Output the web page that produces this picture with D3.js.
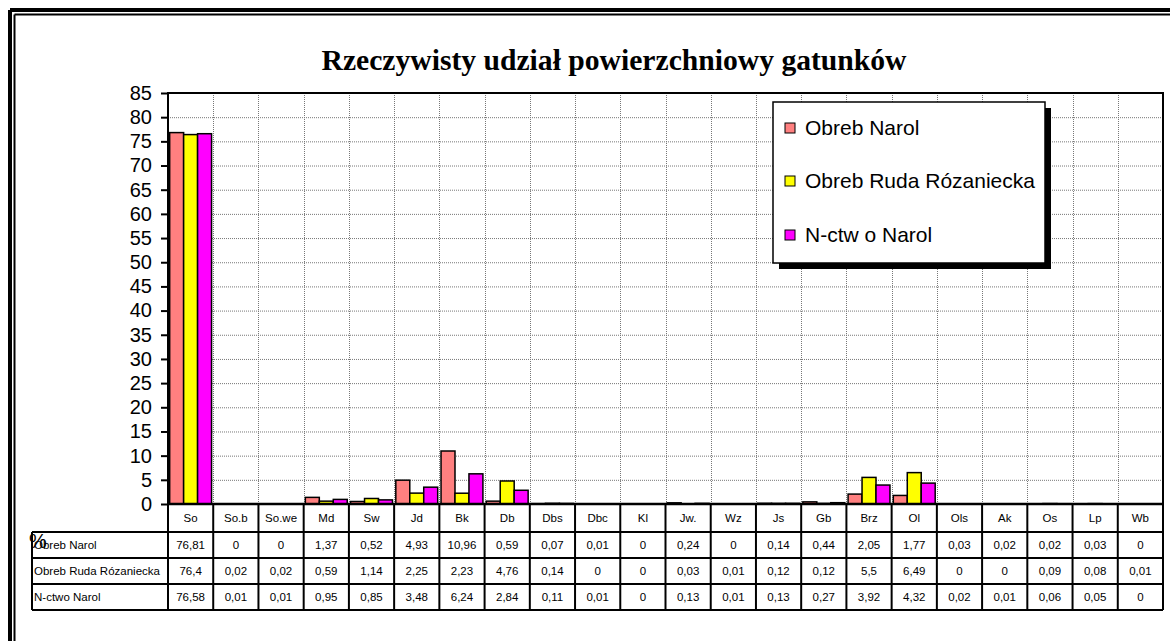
<html lang="pl">

<head>
  <meta charset="utf-8">
  <title>Rzeczywisty udział powierzchniowy gatunków</title>
  <script type="text/javascript" src="https://d3js.org/d3.v7.min.js"></script>
  <style>
    body { margin: 0; background: #fff; }
    text { font-family: "Liberation Sans", Arial, sans-serif; }
  </style>
</head>

<body>
  <svg width="1170" height="641"></svg>
  <script>
    const categories = ["So", "So.b", "So.we", "Md", "Sw", "Jd", "Bk", "Db", "Dbs", "Dbc", "Kl",
      "Jw.", "Wz", "Js", "Gb", "Brz", "Ol", "Ols", "Ak", "Os", "Lp", "Wb"];
    const seriesNames = ["Obreb Narol", "Obreb Ruda Rózaniecka", "N-ctwo Narol"];
    const legendNames = ["Obreb Narol", "Obreb Ruda Rózaniecka", "N-ctw o Narol"];
    const narol = [76.81, 0, 0, 1.37, 0.52, 4.93, 10.96, 0.59, 0.07, 0.01, 0,
      0.24, 0, 0.14, 0.44, 2.05, 1.77, 0.03, 0.02, 0.02, 0.03, 0];
    const rudaRozaniecka = [76.4, 0.02, 0.02, 0.59, 1.14, 2.25, 2.23, 4.76, 0.14, 0, 0,
      0.03, 0.01, 0.12, 0.12, 5.5, 6.49, 0, 0, 0.09, 0.08, 0.01];
    const nctwo = [76.58, 0.01, 0.01, 0.95, 0.85, 3.48, 6.24, 2.84, 0.11, 0.01, 0,
      0.13, 0.01, 0.13, 0.27, 3.92, 4.32, 0.02, 0.01, 0.06, 0.05, 0];
    const yTicks = d3.range(0, 90, 5);
    const colors = ["#FF8080", "#FFFF00", "#FF00FF"];
    const series = [narol, rudaRozaniecka, nctwo];

    const svg = d3.select("svg");
    const plotLeft = 168, plotRight = 1163, plotTop = 93, plotBottom = 504;
    const rowH = [28, 26, 26, 26];
    const labelLeft = 32;

    // ramka
    svg.append("line").attr("x1", 10).attr("y1", 10).attr("x2", 1170).attr("y2", 10)
      .attr("stroke", "#000").attr("stroke-width", 4);
    svg.append("line").attr("x1", 10).attr("y1", 10).attr("x2", 10).attr("y2", 641)
      .attr("stroke", "#000").attr("stroke-width", 4);
    svg.append("line").attr("x1", 14.5).attr("y1", 14.5).attr("x2", 1170).attr("y2", 14.5)
      .attr("stroke", "#000").attr("stroke-width", 2);
    svg.append("line").attr("x1", 14.5).attr("y1", 14.5).attr("x2", 14.5).attr("y2", 641)
      .attr("stroke", "#000").attr("stroke-width", 2);

    svg.append("text")
      .attr("x", 614).attr("y", 70)
      .attr("text-anchor", "middle")
      .attr("textLength", 585).attr("lengthAdjust", "spacingAndGlyphs")
      .style("font-family", "'Liberation Serif', 'Times New Roman', serif")
      .style("font-weight", "bold").style("font-size", "30px")
      .text("Rzeczywisty udział powierzchniowy gatunków");

    const x = d3.scaleBand().domain(categories).range([plotLeft, plotRight]);
    const x1 = d3.scaleBand().domain(d3.range(3))
      .range([0, x.bandwidth()]).paddingOuter(0.12);
    const y = d3.scaleLinear().domain([0, 85]).range([plotBottom, plotTop]);

    // siatka
    svg.append("g").selectAll("line").data(yTicks.slice(1))
      .join("line")
      .attr("x1", plotLeft).attr("x2", plotRight)
      .attr("y1", d => y(d) + 0.5).attr("y2", d => y(d) + 0.5)
      .attr("stroke", "#777").attr("stroke-dasharray", "1,1");
    svg.append("g").selectAll("line").data(categories.slice(1))
      .join("line")
      .attr("x1", d => Math.round(x(d)) + 0.5).attr("x2", d => Math.round(x(d)) + 0.5)
      .attr("y1", plotTop).attr("y2", plotBottom)
      .attr("stroke", "#777").attr("stroke-dasharray", "1,1");

    // słupki
    series.forEach((vals, s) => {
      svg.append("g").selectAll("rect").data(vals)
        .join("rect")
        .attr("x", (d, i) => x(categories[i]) + x1(s))
        .attr("width", x1.bandwidth())
        .attr("y", d => y(d))
        .attr("height", d => y(0) - y(d))
        .attr("fill", colors[s])
        .attr("stroke", "#000").attr("stroke-width", 1.5);
    });

    // oś Y
    const yAxis = svg.append("g")
      .attr("transform", `translate(${plotLeft},0)`)
      .call(d3.axisLeft(y).tickValues(yTicks).tickSize(7).tickPadding(9));
    yAxis.select(".domain").remove();
    yAxis.selectAll("line").attr("stroke", "#000").attr("stroke-width", 2);
    yAxis.selectAll("text").style("font-size", "20px").attr("fill", "#000");

    // ramka obszaru wykresu
    svg.append("path")
      .attr("d", `M${plotLeft},${plotBottom}V${plotTop}H${plotRight}V${plotBottom + d3.sum(rowH)}`)
      .attr("fill", "none").attr("stroke", "#000").attr("stroke-width", 2);

    // tabela danych
    const rowY = [plotBottom];
    rowH.forEach(h => rowY.push(rowY[rowY.length - 1] + h));
    const table = svg.append("g");
    rowY.forEach((ry, i) => {
      table.append("line")
        .attr("x1", i === 0 ? plotLeft : labelLeft).attr("x2", plotRight)
        .attr("y1", ry).attr("y2", ry)
        .attr("stroke", "#000").attr("stroke-width", i === 0 ? 2.5 : 2);
    });
    table.append("line").attr("x1", labelLeft).attr("x2", labelLeft)
      .attr("y1", rowY[1]).attr("y2", rowY[4]).attr("stroke", "#000").attr("stroke-width", 2);
    categories.forEach(c => {
      table.append("line")
        .attr("x1", x(c)).attr("x2", x(c))
        .attr("y1", plotBottom).attr("y2", rowY[4])
        .attr("stroke", "#000").attr("stroke-width", 2);
    });
    table.selectAll("text.cat").data(categories)
      .join("text").attr("class", "cat")
      .attr("x", d => x(d) + x.bandwidth() / 2)
      .attr("y", rowY[0] + rowH[0] / 2 + 4)
      .attr("text-anchor", "middle").style("font-size", "11.5px")
      .text(d => d);
    series.forEach((vals, s) => {
      const cy = rowY[s + 1] + rowH[s + 1] / 2 + 4;
      table.append("text")
        .attr("x", labelLeft + 2).attr("y", cy)
        .style("font-size", "11.5px").text(seriesNames[s]);
      table.append("g").selectAll("text").data(vals)
        .join("text")
        .attr("x", (d, i) => x(categories[i]) + x.bandwidth() / 2)
        .attr("y", cy)
        .attr("text-anchor", "middle").style("font-size", "11.5px")
        .text(d => String(d).replace(".", ","));
    });

    svg.append("text").attr("x", 29).attr("y", 548)
      .style("font-size", "20px").text("%");

    // legenda
    const lg = svg.append("g");
    lg.append("rect").attr("x", 779).attr("y", 108).attr("width", 272).attr("height", 161)
      .attr("fill", "#000");
    lg.append("rect").attr("x", 773).attr("y", 102).attr("width", 272).attr("height", 161)
      .attr("fill", "#fff").attr("stroke", "#000").attr("stroke-width", 1.5);
    const ly = [128, 181, 235];
    legendNames.forEach((n, i) => {
      lg.append("rect").attr("x", 785).attr("y", ly[i] - 5).attr("width", 10).attr("height", 10)
        .attr("fill", colors[i]).attr("stroke", "#000").attr("stroke-width", 1);
      lg.append("text").attr("x", 805).attr("y", ly[i] + 7)
        .style("font-size", "21px").text(n);
    });
  </script>
</body>

</html>
